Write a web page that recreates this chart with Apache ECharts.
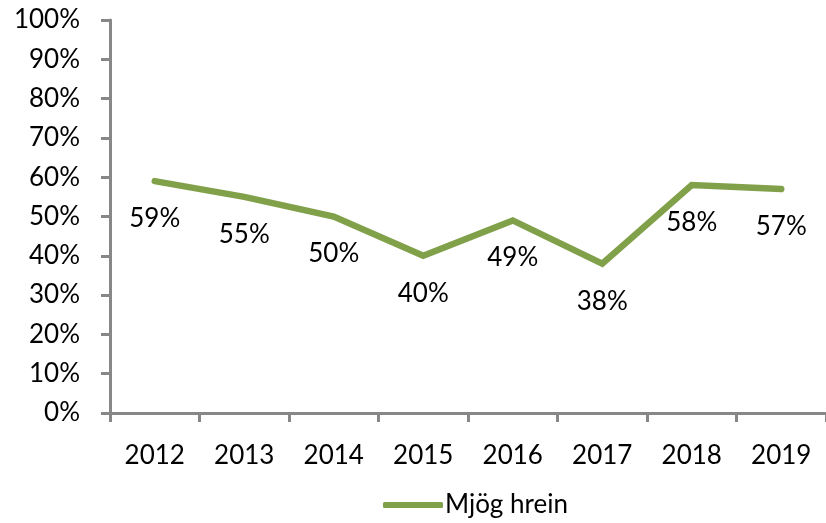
<!DOCTYPE html>
<html>
    <head>
        <meta charset="utf-8">
        <script src="https://cdn.jsdelivr.net/npm/echarts@6/dist/echarts.min.js"></script>
    </head>
    <body>
        <style>
            html, body, #main {
                width: 826px;
                height: 523px;
                margin: 0;
                background: #fff;
            }
        </style>
        <div id="main"></div>
        <script>
            var years = ['2012', '2013', '2014', '2015', '2016', '2017', '2018', '2019'];
            var mjogHrein = [59, 55, 50, 40, 49, 38, 58, 57];
            var seriesName = 'Mjög hrein';

            var font = 'Lato, "Liberation Sans", sans-serif';
            var axisGrey = '#878787';
            var green = '#80A14A';

            var chart = echarts.init(document.getElementById('main'));

            chart.setOption({
                animation: false,
                textStyle: { fontFamily: font },
                grid: {
                    left: 110,
                    right: -4,
                    top: 20,
                    bottom: 110
                },
                legend: {
                    bottom: 0,
                    left: 378,
                    data: [seriesName],
                    itemWidth: 60,
                    itemHeight: 6,
                    itemGap: 0,
                    itemStyle: { color: green, opacity: 1 },
                    textStyle: { fontSize: 26, color: '#000', fontFamily: font, padding: [0, 0, 0, -3] },
                    icon: 'roundRect'
                },
                xAxis: {
                    type: 'category',
                    data: years,
                    boundaryGap: true,
                    axisLine: { lineStyle: { color: axisGrey, width: 3 } },
                    axisTick: { show: true, length: 9, lineStyle: { color: axisGrey, width: 3 } },
                    axisLabel: { color: '#000', fontSize: 26, margin: 30, fontFamily: font },
                    splitLine: { show: false }
                },
                yAxis: {
                    type: 'value',
                    min: 0,
                    max: 100,
                    interval: 10,
                    axisLine: { show: true, lineStyle: { color: axisGrey, width: 3 } },
                    axisTick: { show: true, length: 9, lineStyle: { color: axisGrey, width: 3 } },
                    axisLabel: {
                        color: '#000',
                        fontSize: 26,
                        margin: 30,
                        fontFamily: font,
                        formatter: '{value}%'
                    },
                    splitLine: { show: false }
                },
                series: [
                    {
                        name: seriesName,
                        type: 'line',
                        data: mjogHrein,
                        symbol: 'circle',
                        symbolSize: 1,
                        showSymbol: true,
                        lineStyle: { color: green, width: 6.5, cap: 'round', join: 'miter' },
                        itemStyle: { color: 'rgba(0,0,0,0)' },
                        label: {
                            show: true,
                            position: 'bottom',
                            distance: 24,
                            color: '#000',
                            fontSize: 26,
                            fontFamily: font,
                            formatter: '{c}%'
                        }
                    }
                ]
            });
        </script>
    </body>
</html>
